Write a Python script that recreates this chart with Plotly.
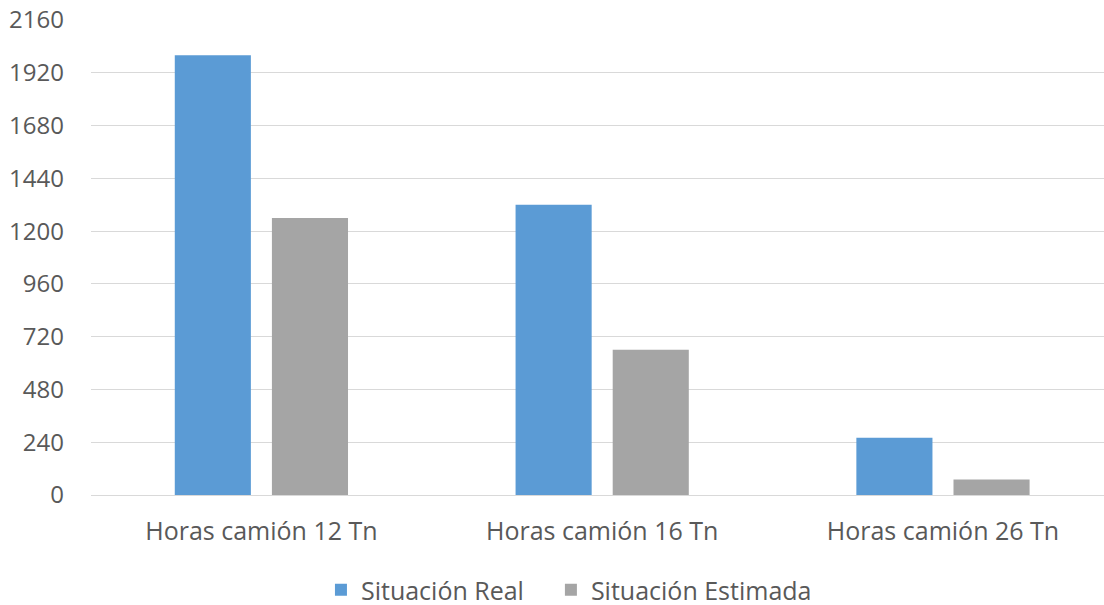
import plotly.graph_objects as go

categories = ["Horas camión 12 Tn", "Horas camión 16 Tn", "Horas camión 26 Tn"]
real_hours = [2000, 1320, 260]
estimated_hours = [1260, 660, 70]
series_names = ["Situación Real", "Situación Estimada"]
y_ticks = [0, 240, 480, 720, 960, 1200, 1440, 1680, 1920, 2160]

FONT = "Open Sans"
TEXT = "#595959"
GRID = "#D9D9D9"

fig = go.Figure()
fig.add_trace(go.Bar(x=categories, y=real_hours, name=series_names[0], legend="legend",
                     marker=dict(color="#5B9BD5", line=dict(width=0))))
fig.add_trace(go.Bar(x=categories, y=estimated_hours, name=series_names[1], legend="legend2",
                     marker=dict(color="#A5A5A5", line=dict(width=0))))

legend_style = dict(orientation="h", xanchor="left", y=-0.2, yanchor="middle",
                    font=dict(size=25, color=TEXT), itemsizing="constant", itemwidth=30,
                    bgcolor="rgba(0,0,0,0)")

fig.update_layout(
    width=1104, height=605,
    margin=dict(l=91, r=0, t=20, b=110, autoexpand=False),
    paper_bgcolor="white", plot_bgcolor="white",
    barmode="group", bargap=0.43, bargroupgap=0.2165,
    font=dict(family=FONT, color=TEXT, size=24),
    showlegend=True,
    legend=dict(x=0.227, **legend_style),
    legend2=dict(x=0.454, **legend_style),
    hovermode=False,
)
fig.update_xaxes(
    type="category", range=[-0.5, 2.4725],
    showgrid=False, zeroline=False,
    showline=True, linecolor=GRID, linewidth=1,
    ticks="", ticklabelstandoff=14,
    tickfont=dict(size=25, color=TEXT, family=FONT),
)
fig.update_yaxes(
    range=[0, 2160], tickvals=y_ticks,
    showgrid=True, gridcolor=GRID, gridwidth=1,
    zeroline=False, showline=False,
    ticks="", ticklabelstandoff=26,
    tickfont=dict(size=24, color=TEXT, family=FONT),
)

fig.write_html("out.html")
